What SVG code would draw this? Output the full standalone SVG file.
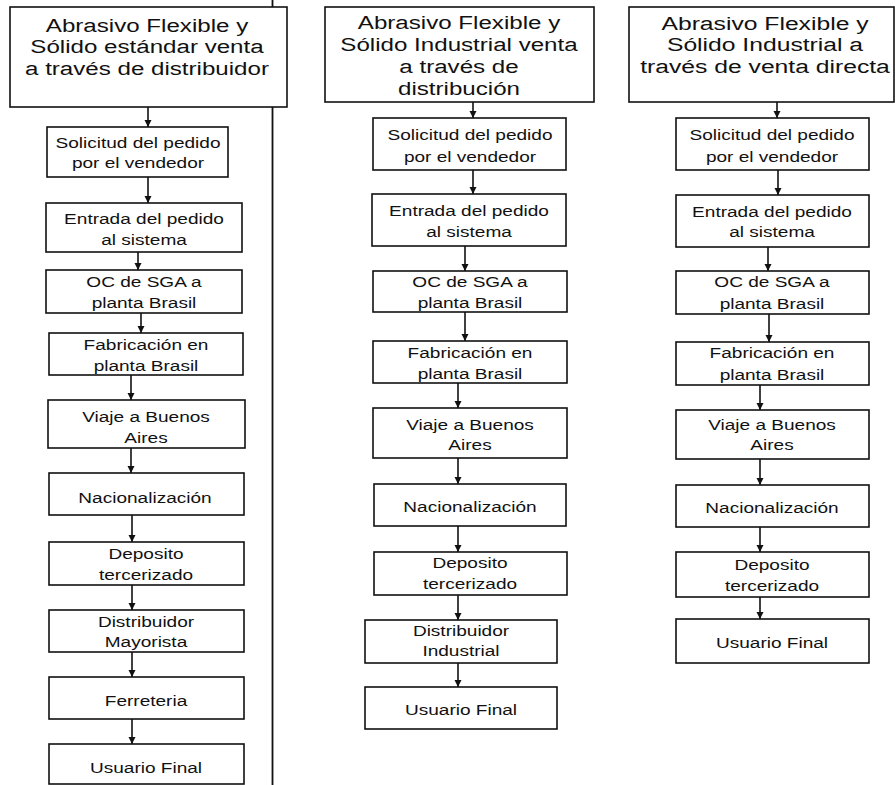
<svg xmlns="http://www.w3.org/2000/svg" width="895" height="785" viewBox="0 0 895 785">
<style>
.box{fill:#fff;stroke:#111;stroke-width:1.6}
.h{font-family:"Liberation Sans",Arial,sans-serif;font-size:19px;fill:#111;text-anchor:middle}
.t{font-family:"Liberation Sans",Arial,sans-serif;font-size:15px;fill:#111;text-anchor:middle}
.c{stroke:#111;stroke-width:1.6;fill:none;marker-end:url(#ah)}
.div{stroke:#111;stroke-width:1.8}
</style>
<defs>
<marker id="ah" markerUnits="userSpaceOnUse" markerWidth="8" markerHeight="8" refX="7" refY="4" orient="auto">
<path d="M0,0.5 L7,4 L0,7.5 z" fill="#111"/>
</marker>
</defs>
<rect width="895" height="785" fill="#fff"/>

<g id="divider"><line class="div" x1="272.5" y1="0" x2="272.5" y2="785"/></g>

<g id="connectors">
<line class="c" x1="148" y1="107" x2="148" y2="127"/>
<line class="c" x1="148" y1="177" x2="148" y2="203"/>
<line class="c" x1="138" y1="252" x2="138" y2="270"/>
<line class="c" x1="141" y1="313" x2="141" y2="333"/>
<line class="c" x1="131" y1="375" x2="131" y2="400"/>
<line class="c" x1="131" y1="448" x2="131" y2="473"/>
<line class="c" x1="132" y1="515" x2="132" y2="542"/>
<line class="c" x1="132" y1="585" x2="132" y2="610"/>
<line class="c" x1="132" y1="652" x2="132" y2="677"/>
<line class="c" x1="132" y1="719" x2="132" y2="744"/>

<line class="c" x1="473" y1="102" x2="473" y2="118"/>
<line class="c" x1="473" y1="170" x2="473" y2="194"/>
<line class="c" x1="465" y1="246" x2="465" y2="271"/>
<line class="c" x1="465" y1="312" x2="465" y2="341"/>
<line class="c" x1="458" y1="383" x2="458" y2="408"/>
<line class="c" x1="458" y1="458" x2="458" y2="484"/>
<line class="c" x1="458" y1="526" x2="458" y2="552"/>
<line class="c" x1="458" y1="595" x2="458" y2="620"/>
<line class="c" x1="458" y1="663" x2="458" y2="687"/>

<line class="c" x1="777" y1="102" x2="777" y2="118"/>
<line class="c" x1="778" y1="170" x2="778" y2="195"/>
<line class="c" x1="768" y1="247" x2="768" y2="271"/>
<line class="c" x1="769" y1="314" x2="769" y2="342"/>
<line class="c" x1="760" y1="385" x2="760" y2="410"/>
<line class="c" x1="760" y1="459" x2="760" y2="485"/>
<line class="c" x1="760" y1="527" x2="760" y2="552"/>
<line class="c" x1="760" y1="597" x2="760" y2="619"/>
</g>

<!-- Column 1 -->
<g id="c1-header"><rect class="box" x="10" y="7" width="277" height="100"/>
<text class="h" transform="translate(147,0) scale(1.27,1)"><tspan x="0" y="32">Abrasivo Flexible y</tspan><tspan x="0" y="53.5">Sólido estándar venta</tspan><tspan x="0" y="75">a través de distribuidor</tspan></text></g>
<g id="c1-solicitud"><rect class="box" x="47" y="127" width="181" height="50"/>
<text class="t" transform="translate(138,0) scale(1.27,1)"><tspan x="0" y="148">Solicitud del pedido</tspan><tspan x="0" y="168">por el vendedor</tspan></text></g>
<g id="c1-entrada"><rect class="box" x="46" y="203" width="196" height="49"/>
<text class="t" transform="translate(144,0) scale(1.27,1)"><tspan x="0" y="224">Entrada del pedido</tspan><tspan x="0" y="245">al sistema</tspan></text></g>
<g id="c1-oc"><rect class="box" x="46" y="270" width="196" height="43"/>
<text class="t" transform="translate(144,0) scale(1.27,1)"><tspan x="0" y="287">OC de SGA a</tspan><tspan x="0" y="308">planta Brasil</tspan></text></g>
<g id="c1-fabricacion"><rect class="box" x="49" y="333" width="194" height="42"/>
<text class="t" transform="translate(146,0) scale(1.27,1)"><tspan x="0" y="350">Fabricación en</tspan><tspan x="0" y="371">planta Brasil</tspan></text></g>
<g id="c1-viaje"><rect class="box" x="48" y="400" width="197" height="48"/>
<text class="t" transform="translate(146,0) scale(1.27,1)"><tspan x="0" y="422">Viaje a Buenos</tspan><tspan x="0" y="443">Aires</tspan></text></g>
<g id="c1-nacionalizacion"><rect class="box" x="49" y="473" width="195" height="42"/>
<text class="t" transform="translate(145,0) scale(1.27,1)"><tspan x="0" y="503">Nacionalización</tspan></text></g>
<g id="c1-deposito"><rect class="box" x="49" y="542" width="195" height="43"/>
<text class="t" transform="translate(146,0) scale(1.27,1)"><tspan x="0" y="559">Deposito</tspan><tspan x="0" y="580">tercerizado</tspan></text></g>
<g id="c1-distribuidor"><rect class="box" x="49" y="610" width="195" height="42"/>
<text class="t" transform="translate(146,0) scale(1.27,1)"><tspan x="0" y="627">Distribuidor</tspan><tspan x="0" y="647">Mayorista</tspan></text></g>
<g id="c1-ferreteria"><rect class="box" x="49" y="677" width="195" height="42"/>
<text class="t" transform="translate(146,0) scale(1.27,1)"><tspan x="0" y="706">Ferreteria</tspan></text></g>
<g id="c1-usuario"><rect class="box" x="49" y="744" width="195" height="40"/>
<text class="t" transform="translate(146,0) scale(1.27,1)"><tspan x="0" y="773">Usuario Final</tspan></text></g>

<!-- Column 2 -->
<g id="c2-header"><rect class="box" x="325" y="7" width="269" height="95"/>
<text class="h" transform="translate(459,0) scale(1.27,1)"><tspan x="0" y="29">Abrasivo Flexible y</tspan><tspan x="0" y="51">Sólido Industrial venta</tspan><tspan x="0" y="73">a través de</tspan><tspan x="0" y="95">distribución</tspan></text></g>
<g id="c2-solicitud"><rect class="box" x="373" y="118" width="193" height="52"/>
<text class="t" transform="translate(470,0) scale(1.27,1)"><tspan x="0" y="140">Solicitud del pedido</tspan><tspan x="0" y="162">por el vendedor</tspan></text></g>
<g id="c2-entrada"><rect class="box" x="372" y="194" width="194" height="52"/>
<text class="t" transform="translate(469,0) scale(1.27,1)"><tspan x="0" y="216">Entrada del pedido</tspan><tspan x="0" y="237">al sistema</tspan></text></g>
<g id="c2-oc"><rect class="box" x="373" y="271" width="194" height="41"/>
<text class="t" transform="translate(470,0) scale(1.27,1)"><tspan x="0" y="287">OC de SGA a</tspan><tspan x="0" y="308">planta Brasil</tspan></text></g>
<g id="c2-fabricacion"><rect class="box" x="373" y="341" width="194" height="42"/>
<text class="t" transform="translate(470,0) scale(1.27,1)"><tspan x="0" y="358">Fabricación en</tspan><tspan x="0" y="379">planta Brasil</tspan></text></g>
<g id="c2-viaje"><rect class="box" x="373" y="408" width="194" height="50"/>
<text class="t" transform="translate(470,0) scale(1.27,1)"><tspan x="0" y="430">Viaje a Buenos</tspan><tspan x="0" y="450">Aires</tspan></text></g>
<g id="c2-nacionalizacion"><rect class="box" x="374" y="484" width="192" height="42"/>
<text class="t" transform="translate(470,0) scale(1.27,1)"><tspan x="0" y="512">Nacionalización</tspan></text></g>
<g id="c2-deposito"><rect class="box" x="374" y="552" width="193" height="43"/>
<text class="t" transform="translate(470,0) scale(1.27,1)"><tspan x="0" y="568">Deposito</tspan><tspan x="0" y="589">tercerizado</tspan></text></g>
<g id="c2-distribuidor"><rect class="box" x="365" y="620" width="192" height="43"/>
<text class="t" transform="translate(461,0) scale(1.27,1)"><tspan x="0" y="636">Distribuidor</tspan><tspan x="0" y="656">Industrial</tspan></text></g>
<g id="c2-usuario"><rect class="box" x="365" y="687" width="192" height="42"/>
<text class="t" transform="translate(461,0) scale(1.27,1)"><tspan x="0" y="715">Usuario Final</tspan></text></g>

<!-- Column 3 -->
<g id="c3-header"><rect class="box" x="629" y="7" width="265" height="95"/>
<text class="h" transform="translate(765,0) scale(1.3,1)"><tspan x="0" y="30">Abrasivo Flexible y</tspan><tspan x="0" y="51.5">Sólido Industrial a</tspan><tspan x="0" y="73">través de venta directa</tspan></text></g>
<g id="c3-solicitud"><rect class="box" x="676" y="118" width="193" height="52"/>
<text class="t" transform="translate(772,0) scale(1.27,1)"><tspan x="0" y="140">Solicitud del pedido</tspan><tspan x="0" y="162">por el vendedor</tspan></text></g>
<g id="c3-entrada"><rect class="box" x="676" y="195" width="193" height="52"/>
<text class="t" transform="translate(772,0) scale(1.27,1)"><tspan x="0" y="217">Entrada del pedido</tspan><tspan x="0" y="237">al sistema</tspan></text></g>
<g id="c3-oc"><rect class="box" x="676" y="271" width="193" height="43"/>
<text class="t" transform="translate(772,0) scale(1.27,1)"><tspan x="0" y="287">OC de SGA a</tspan><tspan x="0" y="309">planta Brasil</tspan></text></g>
<g id="c3-fabricacion"><rect class="box" x="676" y="342" width="193" height="43"/>
<text class="t" transform="translate(772,0) scale(1.27,1)"><tspan x="0" y="358">Fabricación en</tspan><tspan x="0" y="380">planta Brasil</tspan></text></g>
<g id="c3-viaje"><rect class="box" x="676" y="410" width="193" height="49"/>
<text class="t" transform="translate(772,0) scale(1.27,1)"><tspan x="0" y="430">Viaje a Buenos</tspan><tspan x="0" y="450">Aires</tspan></text></g>
<g id="c3-nacionalizacion"><rect class="box" x="676" y="485" width="193" height="42"/>
<text class="t" transform="translate(772,0) scale(1.27,1)"><tspan x="0" y="513">Nacionalización</tspan></text></g>
<g id="c3-deposito"><rect class="box" x="676" y="552" width="193" height="45"/>
<text class="t" transform="translate(772,0) scale(1.27,1)"><tspan x="0" y="570">Deposito</tspan><tspan x="0" y="591">tercerizado</tspan></text></g>
<g id="c3-usuario"><rect class="box" x="676" y="619" width="193" height="44"/>
<text class="t" transform="translate(772,0) scale(1.27,1)"><tspan x="0" y="648">Usuario Final</tspan></text></g>
</svg>
